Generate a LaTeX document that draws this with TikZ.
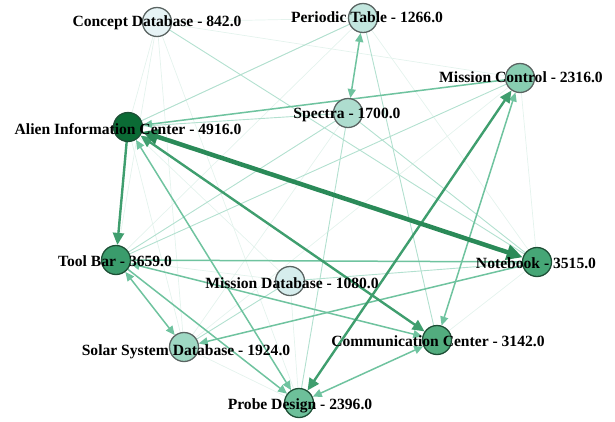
\documentclass[tikz,border=0pt]{standalone}
\usepackage{fontspec}
\setmainfont{Liberation Serif}
\usetikzlibrary{arrows.meta}
\pgfdeclarelayer{edgelayer}
\pgfsetlayers{edgelayer,main}
\definecolor{cStrong}{HTML}{2A8A58}
\definecolor{cMid}{HTML}{3F9E6E}
\definecolor{cMed}{HTML}{6FC39F}
\definecolor{cLight}{HTML}{B2E0CF}
\definecolor{cFaint}{HTML}{E4F3ED}
\definecolor{fAlien}{HTML}{0B6B35}
\definecolor{fTool}{HTML}{3A9C6C}
\definecolor{fNote}{HTML}{46A676}
\definecolor{fComm}{HTML}{52AC7E}
\definecolor{fProbe}{HTML}{6DC09A}
\definecolor{fMC}{HTML}{88CDB1}
\definecolor{fSolar}{HTML}{9ED8C3}
\definecolor{fSpec}{HTML}{AEDDCF}
\definecolor{fPer}{HTML}{C2E6DE}
\definecolor{fMDB}{HTML}{D6EDED}
\definecolor{fConc}{HTML}{E6F3F5}
\definecolor{bDark}{HTML}{1E4F36}
\definecolor{bGray}{HTML}{5A6462}
\begin{document}
\begin{tikzpicture}[x=1pt,y=-1pt,
  vert/.style={circle,minimum size=29pt,inner sep=0pt,line width=1.3pt},
  lab/.style={font=\fontsize{15.6}{15.6}\selectfont\bfseries,inner sep=0pt,text=black},
  faint/.style={draw=cFaint,line width=0.7pt},
  light/.style={draw=cLight,line width=0.9pt},
  med/.style={draw=cMed,line width=1.5pt},
  mid/.style={draw=cMid,line width=2.4pt},
  big/.style={draw=cStrong,line width=4.5pt},
  tipm/.tip={Triangle[length=9pt,width=8pt]},
  tipb/.tip={Triangle[length=12pt,width=11pt]},
  tipx/.tip={Triangle[length=16pt,width=15pt]}]
\useasboundingbox (0,0) rectangle (615,421);

% vertices
\node[vert,fill=fConc,draw=bGray]   (concept)  at (157,22)  {};
\node[vert,fill=fPer,draw=bGray]    (periodic) at (363,18)  {};
\node[vert,fill=fMC,draw=bGray]     (mc)       at (520,78)  {};
\node[vert,fill=fSpec,draw=bGray]   (spectra)  at (348,113) {};
\node[vert,fill=fAlien,draw=bDark]  (alien)    at (128,127) {};
\node[vert,fill=fTool,draw=bDark]   (toolbar)  at (116,260) {};
\node[vert,fill=fNote,draw=bDark]   (notebook) at (537,262) {};
\node[vert,fill=fMDB,draw=bGray]    (missiondb) at (290,281) {};
\node[vert,fill=fSolar,draw=bGray]  (solar)    at (184,347) {};
\node[vert,fill=fComm,draw=bDark]   (comm)     at (437,340) {};
\node[vert,fill=fProbe,draw=bDark]  (probe)    at (299,403) {};

% labels
\node[lab] (lconcept)  at (157,23)  {Concept Database - 842.0};
\node[lab] (lperiodic) at (367,17)  {Periodic Table - 1266.0};
\node[lab] (lmc)       at (521,77)  {Mission Control - 2316.0};
\node[lab] (lspectra)  at (347,115) {Spectra - 1700.0};
\node[lab] (lalien)    at (128,129) {Alien Information Center - 4916.0};
\node[lab] (ltoolbar)  at (115,261) {Tool Bar - 3659.0};
\node[lab] (lnotebook) at (536,263) {Notebook - 3515.0};
\node[lab] (lmissiondb) at (292,283) {Mission Database - 1080.0};
\node[lab] (lsolar)    at (186,352) {Solar System Database - 1924.0};
\node[lab] (lcomm)     at (438,341) {Communication Center - 3142.0};
\node[lab] (lprobe)    at (300,406) {Probe Design - 2396.0};

\begin{pgfonlayer}{edgelayer}
% faint edges
\foreach \a/\b in {concept/periodic,concept/alien,concept/toolbar,concept/mc,
  periodic/notebook,periodic/alien,mc/notebook,notebook/comm,missiondb/toolbar,
  probe/solar,concept/solar,mc/solar,missiondb/alien,periodic/toolbar,
  spectra/solar,missiondb/probe,alien/solar,concept/probe}
  \draw[faint] (\a) -- (\b);
% light edges
\foreach \a/\b in {alien/spectra,concept/notebook,periodic/comm,spectra/notebook,
  spectra/toolbar,mc/toolbar,missiondb/solar,missiondb/notebook,alien/periodic,
  spectra/probe}
  \draw[light] (\a) -- (\b);
% medium edges
\draw[med,tipm-tipm] (alien) -- (probe);
\draw[med,tipm-tipm] (mc) -- (comm);
\draw[med,tipm-tipm] (periodic) -- (spectra);
\draw[med,tipm-] (alien) -- (mc);
\draw[med,tipm-tipm] (toolbar) -- (solar);
\draw[med,-tipm] (toolbar) -- (probe);
\draw[med,tipm-tipm] (toolbar) -- (comm);
\draw[med,-tipm] (notebook) -- (solar);
\draw[med,tipm-tipm] (comm) -- (probe);
\draw[med] (toolbar) -- (notebook);
% strong edges
\draw[mid,-tipb] (alien) -- (toolbar);
\draw[mid,tipb-tipb] (alien) -- (comm);
\draw[mid,tipb-tipb] (mc) -- (probe);
\draw[big,tipx-tipx] (alien) -- (notebook);
\end{pgfonlayer}
\end{tikzpicture}
\end{document}
